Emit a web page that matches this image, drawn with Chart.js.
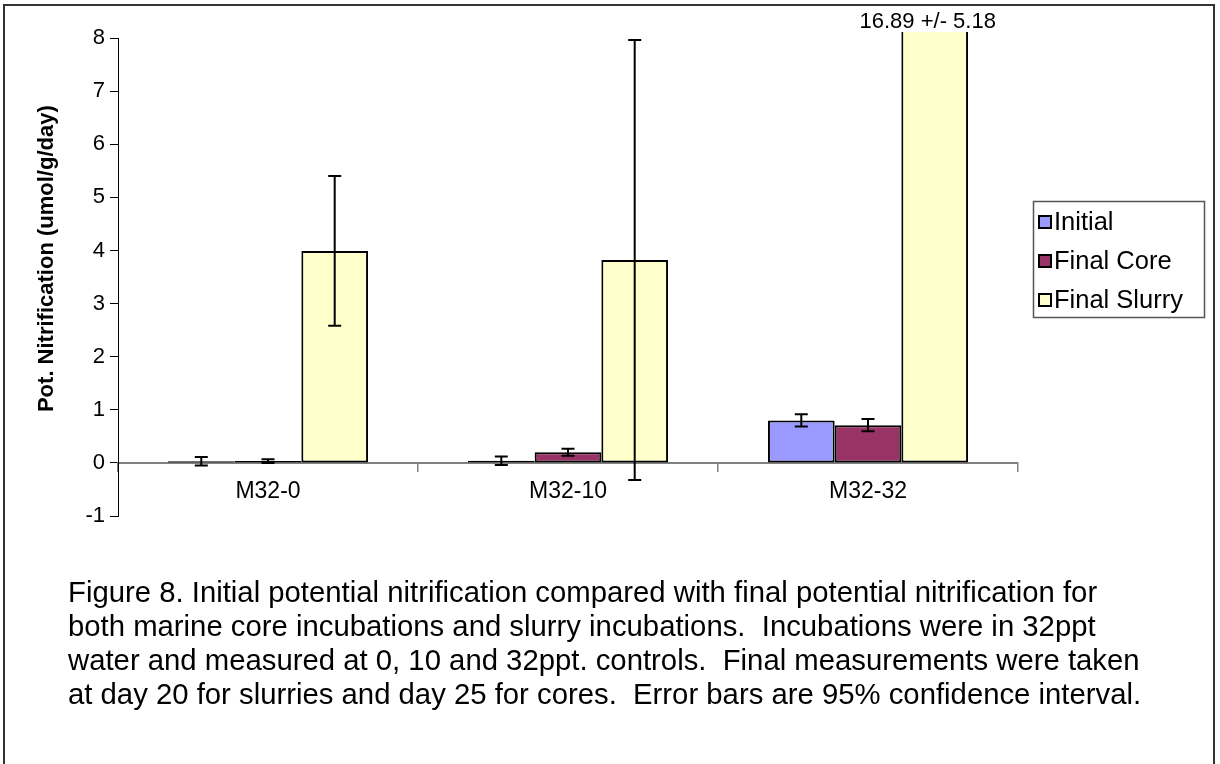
<!DOCTYPE html>
<html>
<head>
<meta charset="utf-8">
<script src="https://cdn.jsdelivr.net/npm/chart.js@4.4.1/dist/chart.umd.min.js"></script>
<style>
  html, body { margin: 0; padding: 0; background: #fff; }
  #wrap { position: relative; width: 1220px; height: 764px; overflow: hidden; }
  #frame { position: absolute; left: 3px; top: 4px; width: 1212px; height: 800px; border: 2px solid #333; box-sizing: border-box; }
  canvas { position: absolute; left: 0; top: 0; }
  #caption { position: absolute; left: 68px; top: 575px; font-family: "Liberation Sans", Arial, sans-serif; font-size: 29.3px; line-height: 34px; color: #000; white-space: nowrap; }
</style>
</head>
<body>
<div id="wrap">
  <div id="frame"></div>
  <canvas id="c" width="1220" height="764"></canvas>
  <div id="caption">Figure 8. Initial potential nitrification compared with final potential nitrification for<br>both marine core incubations and slurry incubations.&nbsp; Incubations were in 32ppt<br>water and measured at 0, 10 and 32ppt. controls.&nbsp; Final measurements were taken<br>at day 20 for slurries and day 25 for cores.&nbsp; Error bars are 95% confidence interval.</div>
</div>
<script>
const categories = ['M32-0', 'M32-10', 'M32-32'];
const seriesNames = ['Initial', 'Final Core', 'Final Slurry'];
const initialValues = [0.03, 0.04, 0.80];
const initialErrors = [0.08, 0.08, 0.115];
const finalCoreValues = [0.035, 0.20, 0.71];
const finalCoreErrors = [0.035, 0.065, 0.115];
const finalSlurryValues = [3.99, 3.82, 16.89];
const finalSlurryErrors = [1.41, 4.14, 5.18];
const yTicks = [-1, 0, 1, 2, 3, 4, 5, 6, 7, 8];
const offScaleLabel = '16.89 +/- 5.18';
const yTitle = 'Pot. Nitrification (umol/g/day)';

const colors = ['#9999FF', '#993366', '#FFFFCC'];
const FONT = '"Liberation Sans", Arial, sans-serif';

const errorBarPlugin = {
  id: 'errorBars',
  afterDatasetsDraw(chart) {
    const ctx = chart.ctx;
    const yScale = chart.scales.y;
    const area = chart.chartArea;
    ctx.save();
    ctx.beginPath();
    ctx.rect(area.left, area.top - 2, area.right - area.left, area.bottom - area.top + 4);
    ctx.clip();
    ctx.strokeStyle = '#000';
    ctx.lineWidth = 2;
    chart.data.datasets.forEach((ds, di) => {
      const meta = chart.getDatasetMeta(di);
      meta.data.forEach((bar, i) => {
        const v = ds.data[i], e = ds.errors[i];
        const yTop = yScale.getPixelForValue(v + e);
        const yBot = yScale.getPixelForValue(v - e);
        const x = bar.x;
        ctx.beginPath();
        ctx.moveTo(x, yTop); ctx.lineTo(x, yBot);
        ctx.moveTo(x - 6.5, yTop); ctx.lineTo(x + 6.5, yTop);
        ctx.moveTo(x - 6.5, yBot); ctx.lineTo(x + 6.5, yBot);
        ctx.stroke();
      });
    });
    ctx.restore();

    const meta = chart.getDatasetMeta(2);
    const bar = meta.data[2];
    ctx.save();
    ctx.font = '22px ' + FONT;
    ctx.fillStyle = '#000';
    ctx.textAlign = 'center';
    ctx.textBaseline = 'middle';
    ctx.fillText(offScaleLabel, bar.x - 7, 22);
    ctx.restore();
  }
};

const legendPlugin = {
  id: 'boxLegend',
  afterDraw(chart) {
    const ctx = chart.ctx;
    ctx.save();
    ctx.strokeStyle = '#555';
    ctx.lineWidth = 1.5;
    ctx.strokeRect(1033.5, 201.5, 171, 116);
    ctx.font = '25.5px ' + FONT;
    ctx.textBaseline = 'middle';
    ctx.textAlign = 'left';
    chart.data.datasets.forEach((ds, i) => {
      const cy = 222 + i * 39;
      ctx.fillStyle = ds.backgroundColor;
      ctx.fillRect(1039, cy - 6, 12, 12);
      ctx.strokeStyle = '#000';
      ctx.lineWidth = 2;
      ctx.strokeRect(1039, cy - 6, 12, 12);
      ctx.fillStyle = '#000';
      ctx.fillText(ds.label, 1054, cy + 1);
    });
    ctx.restore();
  }
};

const valueSets = [initialValues, finalCoreValues, finalSlurryValues];
const errorSets = [initialErrors, finalCoreErrors, finalSlurryErrors];

new Chart(document.getElementById('c'), {
  type: 'bar',
  data: {
    labels: categories,
    datasets: seriesNames.map((name, i) => ({
      label: name,
      data: valueSets[i],
      errors: errorSets[i],
      backgroundColor: colors[i],
      borderColor: '#000',
      borderWidth: 2,
      borderSkipped: false,
      categoryPercentage: 0.667,
      barPercentage: 1.0,
      clip: { left: 0, top: 6, right: 0, bottom: 0 }
    }))
  },
  options: {
    responsive: false,
    animation: false,
    events: [],
    layout: { padding: { left: 0, top: 38, right: 202, bottom: 248 } },
    plugins: { legend: { display: false }, tooltip: { enabled: false } },
    scales: {
      x: {
        position: { y: 0 },
        grid: { display: true, offset: true, drawOnChartArea: false, drawTicks: true, tickLength: 8, color: '#808080', lineWidth: 1.5 },
        border: { display: true, color: '#808080', width: 2 },
        ticks: { color: '#000', font: { family: FONT, size: 23 }, padding: 7 }
      },
      y: {
        min: -1, max: 8,
        afterFit(scale) { scale.width = 118; },
        afterBuildTicks(scale) { scale.ticks = yTicks.map(v => ({ value: v })); },
        grid: { display: true, drawOnChartArea: false, drawTicks: true, tickLength: 8, color: '#000', lineWidth: 1 },
        border: { display: true, color: '#000', width: 1 },
        ticks: { color: '#000', font: { family: FONT, size: 22 }, padding: 5 },
        title: { display: true, text: '      ' + yTitle, color: '#000', font: { family: FONT, size: 22, weight: 'bold' }, padding: { top: 34, bottom: 0 } }
      }
    }
  },
  plugins: [errorBarPlugin, legendPlugin]
});
</script>
</body>
</html>
